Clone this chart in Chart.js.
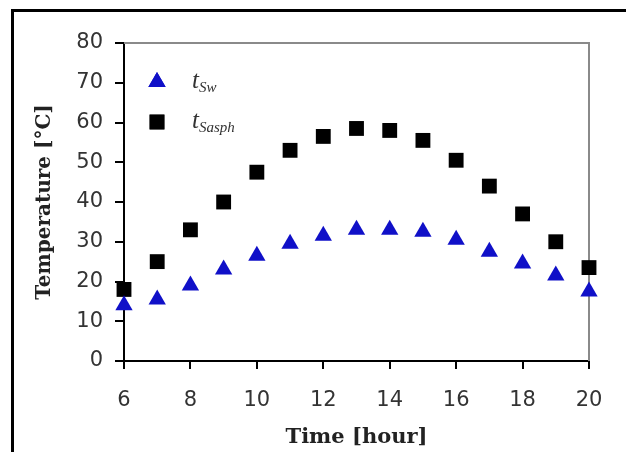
<!DOCTYPE html>
<html>
<head>
<meta charset="utf-8">
<script src="https://cdn.jsdelivr.net/npm/chart.js@4"></script>
<style>
  body { margin: 0; background: #fff; }
  #wrap { position: relative; width: 626px; height: 452px; overflow: hidden; }
  #frame { position: absolute; left: 11px; top: 9px; width: 640px; height: 460px;
           border-left: 3px solid #000; border-top: 3px solid #000; pointer-events: none; }
  canvas { position: absolute; left: 0; top: 0; }
</style>
</head>
<body>
<div id="wrap">
  <canvas id="myChart" width="626" height="452"></canvas>
  <div id="frame"></div>
</div>
<script>
// DATA:
const hours = [6, 7, 8, 9, 10, 11, 12, 13, 14, 15, 16, 17, 18, 19, 20];
const tSw = [14, 15.5, 19, 23, 26.5, 29.5, 31.5, 33, 33, 32.5, 30.5, 27.5, 24.5, 21.5, 17.5];
const tSasph = [18, 25, 33, 40, 47.5, 53, 56.5, 58.5, 58, 55.5, 50.5, 44, 37, 30, 23.5];
const legendLabels = [['t', 'Sw'], ['t', 'Sasph']];

const blue = '#1010c8';

function toPoints(values) {
  return hours.map((h, i) => ({x: h, y: values[i]}));
}

// draws gray top/right frame of the plot area
const plotFrame = {
  id: 'plotFrame',
  beforeDatasetsDraw(chart) {
    const {ctx, chartArea} = chart;
    ctx.save();
    ctx.strokeStyle = '#8a8a8a';
    ctx.lineWidth = 2;
    ctx.beginPath();
    ctx.moveTo(chartArea.left, chartArea.top);
    ctx.lineTo(chartArea.right, chartArea.top);
    ctx.lineTo(chartArea.right, chartArea.bottom);
    ctx.stroke();
    ctx.restore();
  }
};

// legend with subscripts, inside the plot
const subLegend = {
  id: 'subLegend',
  afterDraw(chart) {
    const {ctx} = chart;
    ctx.save();
    chart.data.datasets.forEach((ds, i) => {
      const y = 82 + i * 40;
      Chart.helpers.drawPoint(ctx, {
        pointStyle: ds.pointStyle,
        radius: ds.pointRadius,
        borderWidth: 0
      }, 157, y);
      ctx.fillStyle = ds.backgroundColor;
      ctx.fill();
      ctx.fillStyle = '#333';
      ctx.textBaseline = 'alphabetic';
      ctx.font = 'italic 25px "Liberation Serif"';
      ctx.fillText(legendLabels[i][0], 192, y + 6);
      const w = ctx.measureText(legendLabels[i][0]).width;
      ctx.font = 'italic 15px "Liberation Serif"';
      ctx.fillText(legendLabels[i][1], 192 + w, y + 10);
    });
    ctx.restore();
  }
};

new Chart(document.getElementById('myChart'), {
  type: 'scatter',
  data: {
    datasets: [{
      label: 'tSw',
      data: toPoints(tSw),
      pointStyle: 'triangle',
      pointRadius: 10,
      backgroundColor: blue,
      borderColor: blue,
      borderWidth: 0,
      clip: false
    },
    {
      label: 'tSasph',
      data: toPoints(tSasph),
      pointStyle: 'rect',
      pointRadius: 10.5,
      backgroundColor: '#000',
      borderColor: '#000',
      borderWidth: 0,
      clip: false
    }]
  },
  options: {
    responsive: false,
    animation: false,
    layout: { padding: { top: 43, right: 37, left: 0, bottom: 0 } },
    plugins: { legend: { display: false }, tooltip: { enabled: false } },
    scales: {
      x: {
        type: 'linear',
        min: 6, max: 20,
        afterFit(scale) { scale.height = 91; },
        ticks: { stepSize: 2, padding: 19, color: '#333',
                 font: { family: 'DejaVu Sans', size: 21 } },
        grid: { drawOnChartArea: false, tickLength: 8, color: '#000', lineWidth: 2 },
        border: { color: '#000', width: 2 },
        title: { display: true, text: 'Time [hour]', color: '#222', padding: { top: 4, bottom: 2 },
                 font: { family: 'DejaVu Serif', size: 21, weight: 'bold' } }
      },
      y: {
        min: 0, max: 80,
        afterFit(scale) { scale.width = 124; },
        ticks: { stepSize: 10, padding: 12, color: '#333',
                 font: { family: 'DejaVu Sans', size: 21 } },
        grid: { drawOnChartArea: false, tickLength: 9, color: '#000', lineWidth: 2 },
        border: { color: '#000', width: 2 },
        title: { display: true, text: 'Temperature [°C]', color: '#222', padding: { top: 33, bottom: 0 },
                 font: { family: 'DejaVu Serif', size: 20, weight: 'bold' } }
      }
    }
  },
  plugins: [plotFrame, subLegend]
});
</script>
</body>
</html>
